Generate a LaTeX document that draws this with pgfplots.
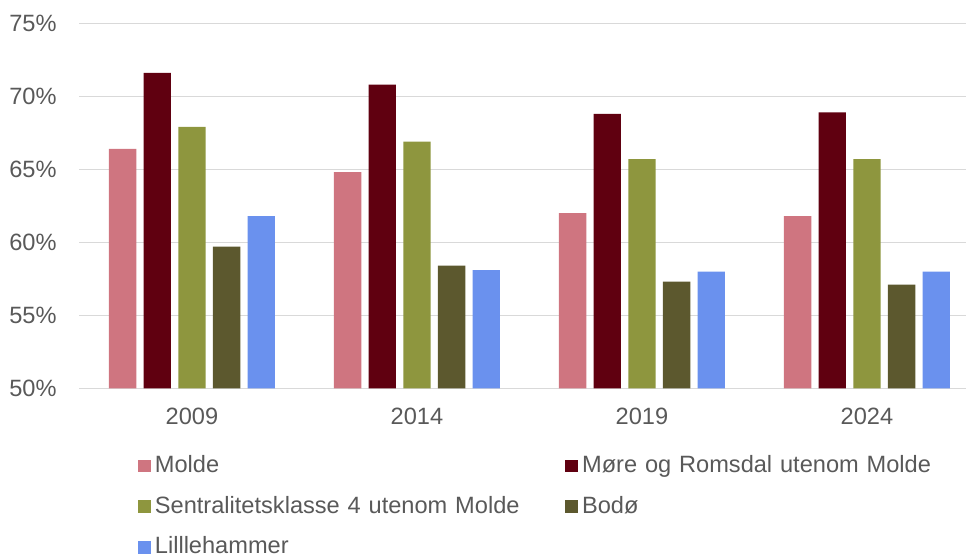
\documentclass[border=0pt]{standalone}
\usepackage{pgfplots}
\pgfplotsset{compat=1.18}
\usepackage{fontspec}
\setmainfont{Liberation Sans}
\definecolor{cMolde}{HTML}{CF7580}
\definecolor{cMore}{HTML}{600010}
\definecolor{cSentral}{HTML}{8E963E}
\definecolor{cBodo}{HTML}{5C582E}
\definecolor{cLill}{HTML}{6A91EE}
\definecolor{gridgray}{HTML}{D9D9D9}
\definecolor{textgray}{HTML}{595959}
\pgfplotsset{ybar legend/.style={legend image code/.code={\fill[##1] (0pt,0pt) rectangle (9.3pt,9.6pt);}}}
\begin{document}
\begin{tikzpicture}
\path[use as bounding box] (0,0) rectangle (724.5pt,419.25pt);
\begin{axis}[
  at={(59.6pt,128pt)}, anchor=south west,
  scale only axis, width=675pt, height=273.75pt,
  xmin=-0.5, xmax=3.5, ymin=50, ymax=75,
  ybar=5.5pt, bar width=20.5pt,
  xtick={0,1,2,3}, xticklabels={2009,2014,2019,2024},
  ytick={50,55,...,75},
  yticklabel={\pgfmathprintnumber{\tick}\%},
  ymajorgrids, grid style={draw=gridgray, line width=1pt},
  axis line style={draw=none},
  major tick length=0pt,
  tick label style={font=\fontsize{17.7}{20}\selectfont, text=textgray},
  /pgf/number format/assume math mode=true,
  yticklabel style={inner sep=0pt, xshift=-17pt},
  xticklabel style={inner sep=0pt, yshift=-14.6pt},
  legend columns=2,
  legend style={
    at={(0.0653,-0.1826)}, anchor=north west,
    draw=none, fill=none, inner sep=0pt, outer sep=0pt,
    font=\fontsize{17.7}{20}\selectfont, text=textgray,
    cells={anchor=base west},
    nodes={inner sep=0pt, text width=307.9pt, text height=13pt, text depth=0pt},
    /tikz/every odd column/.style={column sep=3.2pt},
    /tikz/every even column/.style={column sep=0pt},
    row sep=17.6pt,
  },
]
\addplot[fill=cMolde, draw=none] coordinates {(0,66.4) (1,64.8) (2,62.0) (3,61.8)};
\addplot[fill=cMore, draw=none] coordinates {(0,71.6) (1,70.8) (2,68.8) (3,68.9)};
\addplot[fill=cSentral, draw=none] coordinates {(0,67.9) (1,66.9) (2,65.7) (3,65.7)};
\addplot[fill=cBodo, draw=none] coordinates {(0,59.7) (1,58.4) (2,57.3) (3,57.1)};
\addplot[fill=cLill, draw=none] coordinates {(0,61.8) (1,58.1) (2,58.0) (3,58.0)};
\legend{Molde, Møre og Romsdal utenom Molde, Sentralitetsklasse 4 utenom Molde, Bodø, Lilllehammer}
\end{axis}
\end{tikzpicture}
\end{document}
